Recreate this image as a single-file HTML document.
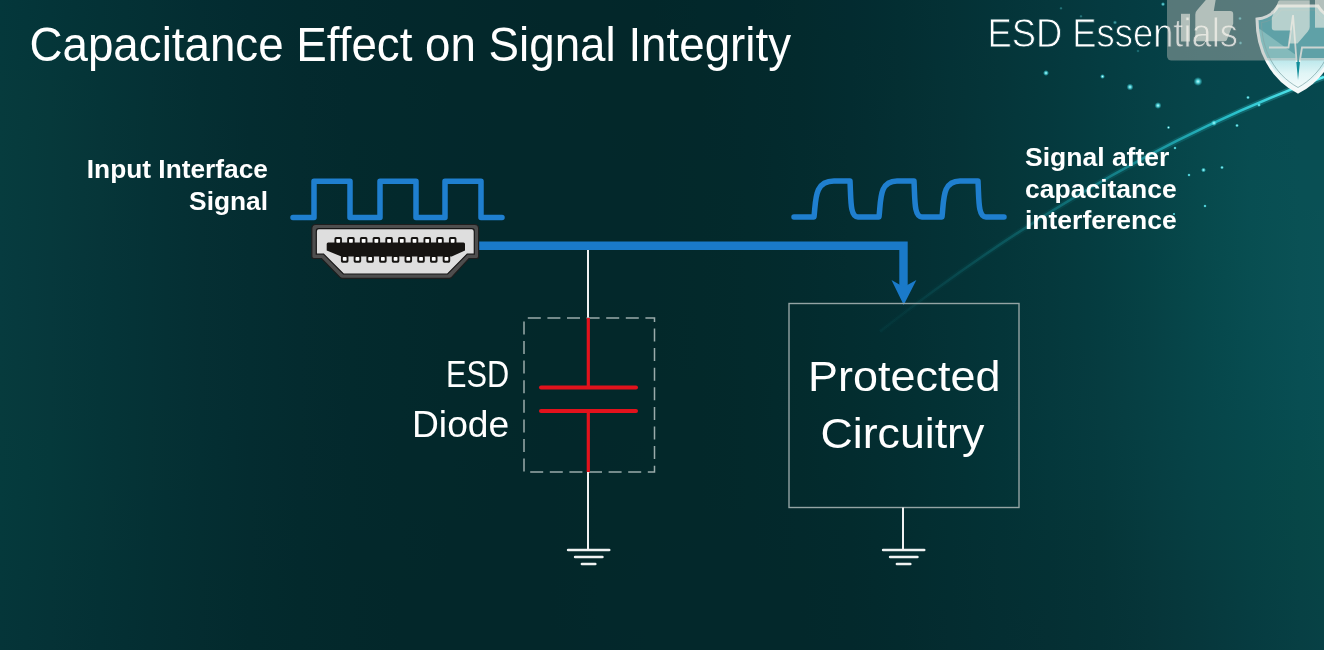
<!DOCTYPE html>
<html>
<head>
<meta charset="utf-8">
<style>
html,body{margin:0;padding:0;width:1324px;height:650px;overflow:hidden;background:#062a2d;}
#bgr div{position:absolute;left:0;width:1324px;height:10px;}
svg{position:absolute;left:0;top:0;filter:blur(0.45px);}
text{font-family:"Liberation Sans",sans-serif;fill:#ffffff;}
</style>
</head>
<body>
<div id="bgr"><div style="top:0px;background:linear-gradient(90deg,#04373b 0px,#043438 50px,#043236 100px,#043034 150px,#032d32 200px,#032b30 250px,#032a2e 300px,#03292d 350px,#03282c 400px,#03282b 450px,#03272b 500px,#03272a 550px,#03272a 600px,#02272a 650px,#02282b 700px,#02282c 750px,#032a2d 800px,#032b30 850px,#032e32 900px,#043135 950px,#043439 1000px,#05373c 1050px,#053a40 1100px,#053d43 1150px,#053f46 1200px,#054148 1250px,#05424a 1300px,#05434b 1324px)"></div><div style="top:10px;background:linear-gradient(90deg,#04373b 0px,#043539 50px,#043236 100px,#043034 150px,#042d32 200px,#032b30 250px,#032a2e 300px,#03292d 350px,#03282c 400px,#03282b 450px,#03272b 500px,#03272a 550px,#03272a 600px,#03272a 650px,#02282b 700px,#02282c 750px,#032a2d 800px,#032b30 850px,#032e32 900px,#043135 950px,#043439 1000px,#05373c 1050px,#053a40 1100px,#053d43 1150px,#054046 1200px,#054249 1250px,#05434a 1300px,#05434b 1324px)"></div><div style="top:20px;background:linear-gradient(90deg,#04373b 0px,#043539 50px,#043336 100px,#043034 150px,#042e32 200px,#032c30 250px,#032a2e 300px,#03292d 350px,#03282c 400px,#03282b 450px,#03282b 500px,#03272a 550px,#03272a 600px,#03272a 650px,#03282b 700px,#03282c 750px,#032a2d 800px,#032b30 850px,#032e32 900px,#043135 950px,#043439 1000px,#05373d 1050px,#053b40 1100px,#053e44 1150px,#054047 1200px,#054249 1250px,#05434b 1300px,#05444b 1324px)"></div><div style="top:30px;background:linear-gradient(90deg,#05383b 0px,#053639 50px,#043337 100px,#043034 150px,#042e32 200px,#042c30 250px,#032a2e 300px,#03292d 350px,#03282c 400px,#03282b 450px,#03282b 500px,#03272a 550px,#03272a 600px,#03272a 650px,#03282b 700px,#03292c 750px,#032a2d 800px,#032c2f 850px,#032e32 900px,#043136 950px,#053439 1000px,#05383d 1050px,#053b40 1100px,#053e44 1150px,#054147 1200px,#05434a 1250px,#05444b 1300px,#06444c 1324px)"></div><div style="top:40px;background:linear-gradient(90deg,#05383c 0px,#053639 50px,#053337 100px,#043034 150px,#042e32 200px,#042c30 250px,#032a2e 300px,#03292d 350px,#03282c 400px,#03282b 450px,#03282b 500px,#03282a 550px,#03272a 600px,#03282a 650px,#03282b 700px,#03292c 750px,#032a2d 800px,#032c30 850px,#042e32 900px,#043136 950px,#053539 1000px,#05383d 1050px,#053b41 1100px,#053f44 1150px,#054148 1200px,#05434a 1250px,#06444c 1300px,#06454c 1324px)"></div><div style="top:50px;background:linear-gradient(90deg,#05393c 0px,#053639 50px,#053437 100px,#043134 150px,#042e32 200px,#042c30 250px,#032a2e 300px,#03292d 350px,#03282c 400px,#03282b 450px,#03282b 500px,#03282a 550px,#03272a 600px,#03282a 650px,#03282a 700px,#03292c 750px,#032a2d 800px,#032c30 850px,#042e32 900px,#043136 950px,#053539 1000px,#05383d 1050px,#053c41 1100px,#053f45 1150px,#054248 1200px,#06444b 1250px,#06454c 1300px,#06454d 1324px)"></div><div style="top:60px;background:linear-gradient(90deg,#05393c 0px,#05373a 50px,#053437 100px,#043135 150px,#042e32 200px,#042c30 250px,#032a2e 300px,#03292d 350px,#03282c 400px,#03282b 450px,#03282b 500px,#03282a 550px,#03282a 600px,#03282a 650px,#03282a 700px,#03292c 750px,#032a2d 800px,#032c30 850px,#042e32 900px,#043236 950px,#053539 1000px,#05383d 1050px,#053c41 1100px,#054045 1150px,#064349 1200px,#06454b 1250px,#06454c 1300px,#06464d 1324px)"></div><div style="top:70px;background:linear-gradient(90deg,#063a3c 0px,#05373a 50px,#053437 100px,#053135 150px,#042e32 200px,#042c30 250px,#042a2e 300px,#03292d 350px,#03282c 400px,#03282b 450px,#03282b 500px,#03282a 550px,#03282a 600px,#03282a 650px,#03282a 700px,#03292c 750px,#032a2d 800px,#032c30 850px,#042e32 900px,#043236 950px,#053539 1000px,#05393d 1050px,#053c41 1100px,#054045 1150px,#064349 1200px,#06454c 1250px,#06464d 1300px,#06464d 1324px)"></div><div style="top:80px;background:linear-gradient(90deg,#063a3d 0px,#06383a 50px,#053437 100px,#053135 150px,#042e32 200px,#042c30 250px,#042a2e 300px,#03292d 350px,#03292c 400px,#03282b 450px,#03282b 500px,#03282a 550px,#03282a 600px,#03282a 650px,#03282a 700px,#03292c 750px,#032a2d 800px,#032c30 850px,#042f32 900px,#053236 950px,#053539 1000px,#05393d 1050px,#053d41 1100px,#064046 1150px,#06444a 1200px,#06464c 1250px,#06474d 1300px,#06474e 1324px)"></div><div style="top:90px;background:linear-gradient(90deg,#063b3d 0px,#06383a 50px,#053538 100px,#053135 150px,#042e32 200px,#042c30 250px,#042a2e 300px,#03292d 350px,#03292c 400px,#03282b 450px,#03282b 500px,#03282b 550px,#03282a 600px,#03282a 650px,#03282a 700px,#03292c 750px,#032a2d 800px,#032c30 850px,#042f32 900px,#053236 950px,#053539 1000px,#05393d 1050px,#053d42 1100px,#064146 1150px,#06444a 1200px,#06474d 1250px,#06474e 1300px,#06484e 1324px)"></div><div style="top:100px;background:linear-gradient(90deg,#063b3d 0px,#06383b 50px,#053538 100px,#053235 150px,#042f32 200px,#042c30 250px,#042a2e 300px,#03292d 350px,#03292c 400px,#03282b 450px,#03282b 500px,#03282b 550px,#03282a 600px,#03282a 650px,#03282a 700px,#03292c 750px,#032a2d 800px,#032c30 850px,#042f33 900px,#053236 950px,#05353a 1000px,#05393d 1050px,#053d42 1100px,#064146 1150px,#06454a 1200px,#06484e 1250px,#06484e 1300px,#07484f 1324px)"></div><div style="top:110px;background:linear-gradient(90deg,#063b3d 0px,#06393b 50px,#053538 100px,#053235 150px,#042f32 200px,#042c30 250px,#042a2e 300px,#03292d 350px,#03292c 400px,#03282c 450px,#03282b 500px,#03282b 550px,#03282a 600px,#03282a 650px,#03282a 700px,#03292c 750px,#032a2d 800px,#032c30 850px,#042f33 900px,#053236 950px,#05363a 1000px,#05393d 1050px,#053d42 1100px,#064246 1150px,#06464b 1200px,#07494e 1250px,#07494f 1300px,#07494f 1324px)"></div><div style="top:120px;background:linear-gradient(90deg,#063b3d 0px,#06393b 50px,#063538 100px,#053235 150px,#052f33 200px,#042c30 250px,#042b2e 300px,#03292d 350px,#03292c 400px,#03282c 450px,#03282b 500px,#03282b 550px,#03282a 600px,#03282a 650px,#03282b 700px,#03292c 750px,#032a2d 800px,#042c30 850px,#042f33 900px,#053236 950px,#05363a 1000px,#05393e 1050px,#053e42 1100px,#064247 1150px,#06464b 1200px,#07494f 1250px,#074a50 1300px,#074a50 1324px)"></div><div style="top:130px;background:linear-gradient(90deg,#063c3e 0px,#06393b 50px,#063538 100px,#053235 150px,#052f33 200px,#042c30 250px,#042b2e 300px,#03292d 350px,#03292c 400px,#03282c 450px,#03282b 500px,#03282b 550px,#03282b 600px,#03282a 650px,#03282b 700px,#03292c 750px,#032a2e 800px,#042c30 850px,#042f33 900px,#053236 950px,#05363a 1000px,#05393e 1050px,#053e42 1100px,#064247 1150px,#06474c 1200px,#074a50 1250px,#074b51 1300px,#074b51 1324px)"></div><div style="top:140px;background:linear-gradient(90deg,#063c3e 0px,#06393b 50px,#063538 100px,#053235 150px,#052f33 200px,#042c30 250px,#042b2f 300px,#032a2d 350px,#03292c 400px,#03282c 450px,#03282b 500px,#03282b 550px,#03282b 600px,#03282a 650px,#03282b 700px,#03292c 750px,#032b2e 800px,#042c30 850px,#042f33 900px,#053236 950px,#05363a 1000px,#05393e 1050px,#053e42 1100px,#064347 1150px,#07474c 1200px,#074b50 1250px,#084c51 1300px,#084c51 1324px)"></div><div style="top:150px;background:linear-gradient(90deg,#063c3e 0px,#06393b 50px,#063639 100px,#053236 150px,#052f33 200px,#042d30 250px,#042b2f 300px,#032a2d 350px,#03292c 400px,#03282c 450px,#03282b 500px,#03282b 550px,#03282b 600px,#03282a 650px,#03282b 700px,#03292c 750px,#032b2e 800px,#042d30 850px,#042f33 900px,#053236 950px,#053639 1000px,#053a3d 1050px,#053e42 1100px,#064347 1150px,#07484c 1200px,#074c51 1250px,#084d52 1300px,#084d52 1324px)"></div><div style="top:160px;background:linear-gradient(90deg,#063c3e 0px,#06393c 50px,#063639 100px,#053236 150px,#052f33 200px,#042d30 250px,#042b2f 300px,#032a2d 350px,#03292c 400px,#03282c 450px,#03282b 500px,#03282b 550px,#03282b 600px,#03282b 650px,#03292b 700px,#03292c 750px,#032b2e 800px,#042d30 850px,#042f33 900px,#053236 950px,#053639 1000px,#05393d 1050px,#053e42 1100px,#064347 1150px,#07484c 1200px,#084d51 1250px,#084e53 1300px,#084e53 1324px)"></div><div style="top:170px;background:linear-gradient(90deg,#063c3e 0px,#06393c 50px,#063639 100px,#053236 150px,#052f33 200px,#042d31 250px,#042b2f 300px,#032a2d 350px,#03292c 400px,#03282c 450px,#03282b 500px,#03282b 550px,#03282b 600px,#03282b 650px,#03292b 700px,#03292c 750px,#032b2e 800px,#042d30 850px,#042f33 900px,#053236 950px,#053639 1000px,#05393d 1050px,#053e42 1100px,#064347 1150px,#07494d 1200px,#084d52 1250px,#084f53 1300px,#094f53 1324px)"></div><div style="top:180px;background:linear-gradient(90deg,#063c3e 0px,#06393c 50px,#063639 100px,#053236 150px,#052f33 200px,#042d31 250px,#042b2f 300px,#032a2d 350px,#03292c 400px,#03282c 450px,#03282b 500px,#03282b 550px,#03282b 600px,#03282b 650px,#03292b 700px,#03292c 750px,#032b2e 800px,#042d30 850px,#042f33 900px,#053236 950px,#053639 1000px,#05393d 1050px,#053e42 1100px,#064347 1150px,#07494d 1200px,#084e52 1250px,#094f54 1300px,#094f54 1324px)"></div><div style="top:190px;background:linear-gradient(90deg,#063c3e 0px,#06393c 50px,#063639 100px,#053236 150px,#052f33 200px,#042d31 250px,#042b2f 300px,#032a2d 350px,#03292c 400px,#03282c 450px,#03282b 500px,#03282b 550px,#03282b 600px,#03282b 650px,#03292b 700px,#032a2c 750px,#032b2e 800px,#042d30 850px,#042f33 900px,#043236 950px,#053639 1000px,#05393d 1050px,#053e42 1100px,#064347 1150px,#07494d 1200px,#084e52 1250px,#095054 1300px,#095054 1324px)"></div><div style="top:200px;background:linear-gradient(90deg,#063c3f 0px,#06393c 50px,#063639 100px,#053236 150px,#052f33 200px,#042d31 250px,#042b2f 300px,#032a2d 350px,#03292c 400px,#03282c 450px,#03282b 500px,#03282b 550px,#03282b 600px,#03282b 650px,#03292b 700px,#032a2c 750px,#032b2e 800px,#042d30 850px,#042f33 900px,#043236 950px,#053539 1000px,#05393d 1050px,#053e41 1100px,#064347 1150px,#07494c 1200px,#084e52 1250px,#095054 1300px,#095055 1324px)"></div><div style="top:210px;background:linear-gradient(90deg,#063c3f 0px,#06393c 50px,#063639 100px,#053236 150px,#052f33 200px,#042d31 250px,#042b2f 300px,#032a2d 350px,#03292c 400px,#03282c 450px,#03282b 500px,#03282b 550px,#03282b 600px,#03282b 650px,#03292b 700px,#032a2c 750px,#032b2e 800px,#042d30 850px,#042f33 900px,#043236 950px,#053539 1000px,#05393d 1050px,#053e41 1100px,#064347 1150px,#07494c 1200px,#084e52 1250px,#095054 1300px,#0a5155 1324px)"></div><div style="top:220px;background:linear-gradient(90deg,#063c3f 0px,#06393c 50px,#063539 100px,#053236 150px,#052f33 200px,#042d31 250px,#042b2f 300px,#032a2d 350px,#03292c 400px,#03282c 450px,#03282b 500px,#03282b 550px,#03282b 600px,#03282b 650px,#03292b 700px,#032a2c 750px,#032b2e 800px,#042d30 850px,#042f33 900px,#043236 950px,#053539 1000px,#05393d 1050px,#053d41 1100px,#064346 1150px,#07494c 1200px,#084e52 1250px,#095154 1300px,#0a5155 1324px)"></div><div style="top:230px;background:linear-gradient(90deg,#063b3f 0px,#06393c 50px,#063539 100px,#053236 150px,#052f33 200px,#042d31 250px,#042b2f 300px,#032a2d 350px,#03292c 400px,#03282c 450px,#03282b 500px,#03282b 550px,#03282b 600px,#03282b 650px,#03292b 700px,#032a2c 750px,#032b2e 800px,#042d30 850px,#042f33 900px,#043236 950px,#053539 1000px,#05393d 1050px,#053d41 1100px,#064346 1150px,#07494c 1200px,#084e51 1250px,#0a5155 1300px,#0a5156 1324px)"></div><div style="top:240px;background:linear-gradient(90deg,#063b3f 0px,#06393c 50px,#063539 100px,#053236 150px,#052f33 200px,#042d31 250px,#042b2f 300px,#032a2d 350px,#03292c 400px,#03282c 450px,#03282b 500px,#03282b 550px,#03282b 600px,#03282b 650px,#03292b 700px,#032a2c 750px,#032b2e 800px,#042d30 850px,#042f33 900px,#043236 950px,#043539 1000px,#05393d 1050px,#053d41 1100px,#064346 1150px,#07494c 1200px,#084e51 1250px,#0a5155 1300px,#0a5256 1324px)"></div><div style="top:250px;background:linear-gradient(90deg,#063b3f 0px,#06383c 50px,#063539 100px,#053236 150px,#052f33 200px,#042d31 250px,#042b2f 300px,#032a2d 350px,#03292c 400px,#03282b 450px,#03282b 500px,#03282b 550px,#03282b 600px,#03282b 650px,#03292b 700px,#032a2c 750px,#032b2e 800px,#042d30 850px,#042f33 900px,#043236 950px,#043539 1000px,#05393c 1050px,#053d41 1100px,#054246 1150px,#07494c 1200px,#084e51 1250px,#0a5155 1300px,#0a5256 1324px)"></div><div style="top:260px;background:linear-gradient(90deg,#063b3f 0px,#06383c 50px,#063539 100px,#053236 150px,#052f33 200px,#042d31 250px,#042b2f 300px,#032a2d 350px,#03292c 400px,#03282b 450px,#03282b 500px,#03282b 550px,#03282b 600px,#03282b 650px,#03292b 700px,#032a2c 750px,#032b2e 800px,#042d30 850px,#042f33 900px,#043236 950px,#043539 1000px,#05383c 1050px,#053d40 1100px,#054246 1150px,#07484b 1200px,#084e51 1250px,#0a5155 1300px,#0a5256 1324px)"></div><div style="top:270px;background:linear-gradient(90deg,#063b3f 0px,#06383c 50px,#053539 100px,#053236 150px,#052f33 200px,#042d31 250px,#042b2f 300px,#032a2d 350px,#03292c 400px,#03282b 450px,#03282b 500px,#03282b 550px,#03282b 600px,#03282b 650px,#03292b 700px,#032a2c 750px,#032b2e 800px,#032d30 850px,#042f33 900px,#043236 950px,#043539 1000px,#05383c 1050px,#053c40 1100px,#054245 1150px,#06484b 1200px,#084e51 1250px,#0a5155 1300px,#0a5257 1324px)"></div><div style="top:280px;background:linear-gradient(90deg,#063b3f 0px,#06383c 50px,#053539 100px,#053236 150px,#052f33 200px,#042d31 250px,#042b2f 300px,#032a2d 350px,#03292c 400px,#03282b 450px,#03282b 500px,#03282b 550px,#03282b 600px,#03282b 650px,#03292b 700px,#032a2c 750px,#032b2e 800px,#032d30 850px,#042f33 900px,#043236 950px,#043539 1000px,#05383c 1050px,#053c40 1100px,#054245 1150px,#06484b 1200px,#084d51 1250px,#0a5156 1300px,#0a5257 1324px)"></div><div style="top:290px;background:linear-gradient(90deg,#063b3f 0px,#06383c 50px,#053539 100px,#053236 150px,#052f33 200px,#042d31 250px,#042b2f 300px,#032a2d 350px,#03292c 400px,#03282b 450px,#03282b 500px,#03282b 550px,#03282b 600px,#03282b 650px,#03292b 700px,#032a2c 750px,#032b2e 800px,#032d30 850px,#042f33 900px,#043236 950px,#043539 1000px,#05383c 1050px,#053c40 1100px,#064245 1150px,#06484b 1200px,#084d51 1250px,#0a5156 1300px,#0a5257 1324px)"></div><div style="top:300px;background:linear-gradient(90deg,#063b3f 0px,#06383c 50px,#053539 100px,#053236 150px,#052f33 200px,#042d31 250px,#042b2f 300px,#032a2d 350px,#03292c 400px,#03282b 450px,#03282b 500px,#03282b 550px,#03282a 600px,#03282b 650px,#03292b 700px,#032a2c 750px,#032b2e 800px,#032d30 850px,#042f33 900px,#043236 950px,#043539 1000px,#05383c 1050px,#053c40 1100px,#064245 1150px,#06484b 1200px,#084d51 1250px,#0a5156 1300px,#0a5257 1324px)"></div><div style="top:310px;background:linear-gradient(90deg,#063b3f 0px,#06383c 50px,#053539 100px,#053236 150px,#052f33 200px,#042d31 250px,#042b2f 300px,#032a2d 350px,#03292c 400px,#03282b 450px,#03282b 500px,#03282a 550px,#03282a 600px,#03282a 650px,#03292b 700px,#032a2c 750px,#032b2e 800px,#032d30 850px,#042f33 900px,#043236 950px,#043539 1000px,#05383c 1050px,#053c40 1100px,#064145 1150px,#06484b 1200px,#084d51 1250px,#0a5156 1300px,#0a5257 1324px)"></div><div style="top:320px;background:linear-gradient(90deg,#063b3f 0px,#06383c 50px,#053539 100px,#053236 150px,#052f33 200px,#042d31 250px,#042b2f 300px,#032a2d 350px,#03292c 400px,#03282b 450px,#03282b 500px,#03282a 550px,#03282a 600px,#03282a 650px,#03292b 700px,#032a2c 750px,#032b2e 800px,#032d30 850px,#032f33 900px,#043236 950px,#043539 1000px,#05383c 1050px,#053c40 1100px,#064145 1150px,#06474b 1200px,#084d51 1250px,#095055 1300px,#0a5257 1324px)"></div><div style="top:330px;background:linear-gradient(90deg,#063b3e 0px,#06383c 50px,#053539 100px,#053236 150px,#052f33 200px,#042d31 250px,#042b2f 300px,#032a2d 350px,#03292c 400px,#03282b 450px,#03282b 500px,#03282a 550px,#03282a 600px,#03282a 650px,#03292b 700px,#032a2c 750px,#032b2e 800px,#032d30 850px,#032f33 900px,#043236 950px,#043539 1000px,#05383c 1050px,#053c40 1100px,#064145 1150px,#06474b 1200px,#074c50 1250px,#095055 1300px,#0a5157 1324px)"></div><div style="top:340px;background:linear-gradient(90deg,#063b3e 0px,#06383c 50px,#053539 100px,#053236 150px,#052f33 200px,#042d31 250px,#042b2f 300px,#032a2d 350px,#03292c 400px,#03282b 450px,#03282b 500px,#03282a 550px,#03282a 600px,#03282a 650px,#03292b 700px,#032a2c 750px,#032b2d 800px,#032d30 850px,#032f32 900px,#043236 950px,#043539 1000px,#05383c 1050px,#053c40 1100px,#064145 1150px,#06474b 1200px,#074c50 1250px,#095055 1300px,#095156 1324px)"></div><div style="top:350px;background:linear-gradient(90deg,#063b3e 0px,#06383b 50px,#053539 100px,#053236 150px,#052f33 200px,#042d31 250px,#042b2f 300px,#032a2d 350px,#03292c 400px,#03282b 450px,#03282a 500px,#03282a 550px,#03282a 600px,#03282a 650px,#03292b 700px,#032a2c 750px,#032b2d 800px,#032d30 850px,#032f32 900px,#043236 950px,#043539 1000px,#05383c 1050px,#063c40 1100px,#064145 1150px,#06474a 1200px,#074c50 1250px,#085055 1300px,#095156 1324px)"></div><div style="top:360px;background:linear-gradient(90deg,#063b3e 0px,#06383b 50px,#053539 100px,#053236 150px,#052f33 200px,#042d31 250px,#042b2f 300px,#032a2d 350px,#03292c 400px,#03282b 450px,#03282a 500px,#03282a 550px,#03282a 600px,#03282a 650px,#03292b 700px,#032a2c 750px,#032b2d 800px,#032d30 850px,#032f32 900px,#043236 950px,#043539 1000px,#05383c 1050px,#063c40 1100px,#064145 1150px,#06464a 1200px,#074c50 1250px,#084f54 1300px,#095156 1324px)"></div><div style="top:370px;background:linear-gradient(90deg,#063b3d 0px,#06383b 50px,#053538 100px,#053236 150px,#052f33 200px,#042d31 250px,#042b2f 300px,#032a2d 350px,#03292c 400px,#03282b 450px,#03282a 500px,#03282a 550px,#03282a 600px,#03282a 650px,#03292a 700px,#032a2c 750px,#032b2d 800px,#032d30 850px,#032f32 900px,#033236 950px,#043539 1000px,#05383d 1050px,#063c40 1100px,#064145 1150px,#06464a 1200px,#074b4f 1250px,#084f54 1300px,#095055 1324px)"></div><div style="top:380px;background:linear-gradient(90deg,#063b3d 0px,#06383b 50px,#053538 100px,#053236 150px,#052f33 200px,#042d31 250px,#042b2f 300px,#032a2d 350px,#03292c 400px,#03282b 450px,#03282a 500px,#03282a 550px,#03282a 600px,#03282a 650px,#03282a 700px,#03292b 750px,#032b2d 800px,#032d2f 850px,#032f32 900px,#033236 950px,#043539 1000px,#05383d 1050px,#063c40 1100px,#064145 1150px,#06464a 1200px,#074b4f 1250px,#084f53 1300px,#085055 1324px)"></div><div style="top:390px;background:linear-gradient(90deg,#063b3d 0px,#06383b 50px,#053538 100px,#053236 150px,#052f33 200px,#042d31 250px,#042b2f 300px,#032a2d 350px,#03292c 400px,#03282b 450px,#03282a 500px,#03282a 550px,#03282a 600px,#03282a 650px,#03282a 700px,#03292b 750px,#032b2d 800px,#032d2f 850px,#032f32 900px,#033235 950px,#043539 1000px,#05393d 1050px,#063c40 1100px,#064145 1150px,#06464a 1200px,#074a4e 1250px,#084e53 1300px,#084f54 1324px)"></div><div style="top:400px;background:linear-gradient(90deg,#063b3d 0px,#06383b 50px,#053538 100px,#053236 150px,#052f33 200px,#042d31 250px,#042b2f 300px,#03292d 350px,#03292c 400px,#03282b 450px,#03282a 500px,#03282a 550px,#03282a 600px,#03282a 650px,#03282a 700px,#03292b 750px,#032b2d 800px,#032d2f 850px,#032f32 900px,#033235 950px,#043539 1000px,#05393d 1050px,#063c40 1100px,#064044 1150px,#064549 1200px,#074a4e 1250px,#084e52 1300px,#084f53 1324px)"></div><div style="top:410px;background:linear-gradient(90deg,#063b3d 0px,#06383b 50px,#053538 100px,#053235 150px,#042f33 200px,#042d31 250px,#042b2f 300px,#03292d 350px,#03292c 400px,#03282b 450px,#03282a 500px,#03282a 550px,#03282a 600px,#03282a 650px,#03282a 700px,#03292b 750px,#032b2d 800px,#032c2f 850px,#032f32 900px,#033235 950px,#043539 1000px,#05393d 1050px,#063c40 1100px,#064044 1150px,#064549 1200px,#06494d 1250px,#074d51 1300px,#084e52 1324px)"></div><div style="top:420px;background:linear-gradient(90deg,#063b3d 0px,#06383b 50px,#053538 100px,#053235 150px,#042f33 200px,#042d31 250px,#042b2e 300px,#03292d 350px,#03282c 400px,#03282b 450px,#03282a 500px,#03272a 550px,#03282a 600px,#03282a 650px,#03282a 700px,#03292b 750px,#032a2d 800px,#032c2f 850px,#032f32 900px,#033235 950px,#043539 1000px,#04383d 1050px,#063c40 1100px,#064044 1150px,#064549 1200px,#06494c 1250px,#074c50 1300px,#084e51 1324px)"></div><div style="top:430px;background:linear-gradient(90deg,#063b3d 0px,#05393b 50px,#053538 100px,#053235 150px,#042f33 200px,#042c30 250px,#042b2e 300px,#03292d 350px,#03282b 400px,#03282b 450px,#03282a 500px,#03272a 550px,#03282a 600px,#03282a 650px,#03282a 700px,#03292b 750px,#032a2d 800px,#032c2f 850px,#032f32 900px,#033135 950px,#033539 1000px,#04383c 1050px,#063b3f 1100px,#064044 1150px,#064448 1200px,#06484c 1250px,#074c4f 1300px,#084d50 1324px)"></div><div style="top:440px;background:linear-gradient(90deg,#063b3d 0px,#05393b 50px,#053538 100px,#053235 150px,#042f33 200px,#042c30 250px,#042a2e 300px,#03292d 350px,#03282b 400px,#03282b 450px,#03282a 500px,#03272a 550px,#03272a 600px,#03282a 650px,#03282a 700px,#03292b 750px,#032a2d 800px,#032c2f 850px,#032e31 900px,#033135 950px,#033538 1000px,#04383c 1050px,#053b3f 1100px,#063f43 1150px,#064448 1200px,#06484b 1250px,#074b4d 1300px,#084d4f 1324px)"></div><div style="top:450px;background:linear-gradient(90deg,#063b3d 0px,#05393b 50px,#053538 100px,#053235 150px,#042f33 200px,#042c30 250px,#042a2e 300px,#03292d 350px,#03282b 400px,#03282b 450px,#03282a 500px,#03272a 550px,#03272a 600px,#03282a 650px,#03282a 700px,#03292b 750px,#032a2c 800px,#032c2f 850px,#032e31 900px,#033135 950px,#033438 1000px,#04383c 1050px,#053b3f 1100px,#063f43 1150px,#064347 1200px,#06474a 1250px,#074b4c 1300px,#084c4e 1324px)"></div><div style="top:460px;background:linear-gradient(90deg,#053b3d 0px,#05393b 50px,#053538 100px,#053235 150px,#042f33 200px,#042c30 250px,#042a2e 300px,#03292c 350px,#03282b 400px,#03282b 450px,#03272a 500px,#03272a 550px,#03272a 600px,#03282a 650px,#03282a 700px,#03292b 750px,#032a2c 800px,#032c2e 850px,#032e31 900px,#033134 950px,#033438 1000px,#04373b 1050px,#053a3e 1100px,#063e42 1150px,#064347 1200px,#064749 1250px,#074a4b 1300px,#084b4c 1324px)"></div><div style="top:470px;background:linear-gradient(90deg,#053b3d 0px,#05393b 50px,#053538 100px,#053235 150px,#042f32 200px,#042c30 250px,#042a2e 300px,#03292c 350px,#03282b 400px,#03282a 450px,#03272a 500px,#03272a 550px,#03282a 600px,#03282a 650px,#03282a 700px,#03292b 750px,#032a2c 800px,#032c2e 850px,#032e31 900px,#033134 950px,#033437 1000px,#04373b 1050px,#053a3d 1100px,#063e42 1150px,#064246 1200px,#064649 1250px,#07494a 1300px,#074b4b 1324px)"></div><div style="top:480px;background:linear-gradient(90deg,#053b3d 0px,#05383b 50px,#053538 100px,#053235 150px,#042f32 200px,#042c30 250px,#042a2e 300px,#03292c 350px,#03282b 400px,#03282a 450px,#03272a 500px,#03272a 550px,#03282a 600px,#03282a 650px,#03282a 700px,#03292b 750px,#032a2c 800px,#032b2e 850px,#032e31 900px,#033034 950px,#033337 1000px,#04363a 1050px,#05393d 1100px,#063d41 1150px,#064246 1200px,#064648 1250px,#074949 1300px,#074a4a 1324px)"></div><div style="top:490px;background:linear-gradient(90deg,#053b3d 0px,#05383a 50px,#053538 100px,#043135 150px,#042e32 200px,#042c30 250px,#042a2e 300px,#03292c 350px,#03282b 400px,#03282a 450px,#03272a 500px,#03272a 550px,#03282a 600px,#03282a 650px,#03282a 700px,#03292b 750px,#032a2c 800px,#032b2e 850px,#032d30 900px,#033033 950px,#033336 1000px,#043639 1050px,#05383c 1100px,#063d41 1150px,#064145 1200px,#064547 1250px,#074848 1300px,#07494a 1324px)"></div><div style="top:500px;background:linear-gradient(90deg,#053b3d 0px,#05383a 50px,#053537 100px,#043135 150px,#042e32 200px,#042c30 250px,#032a2e 300px,#03292c 350px,#03282b 400px,#03282a 450px,#03272a 500px,#03272a 550px,#03282a 600px,#03282a 650px,#03282a 700px,#03292b 750px,#03292c 800px,#032b2e 850px,#032d30 900px,#033033 950px,#033236 1000px,#043538 1050px,#05383b 1100px,#063c40 1150px,#064144 1200px,#064446 1250px,#074748 1300px,#074949 1324px)"></div><div style="top:510px;background:linear-gradient(90deg,#053a3d 0px,#05383a 50px,#053437 100px,#043134 150px,#042e32 200px,#042c2f 250px,#032a2d 300px,#03292c 350px,#03282b 400px,#03282a 450px,#03272a 500px,#03272a 550px,#03282a 600px,#03282a 650px,#03282a 700px,#03282b 750px,#03292c 800px,#032b2d 850px,#032d30 900px,#032f33 950px,#033235 1000px,#043438 1050px,#05373a 1100px,#063b3f 1150px,#064044 1200px,#064446 1250px,#074747 1300px,#074848 1324px)"></div><div style="top:520px;background:linear-gradient(90deg,#053a3c 0px,#05373a 50px,#053437 100px,#043134 150px,#042e32 200px,#042c2f 250px,#032a2d 300px,#03292c 350px,#03282b 400px,#03272a 450px,#03272a 500px,#03272a 550px,#03282a 600px,#03282a 650px,#03282a 700px,#03282b 750px,#03292c 800px,#032b2d 850px,#032d30 900px,#032f32 950px,#033135 1000px,#043437 1050px,#053639 1100px,#063b3e 1150px,#063f43 1200px,#064345 1250px,#074647 1300px,#074848 1324px)"></div><div style="top:530px;background:linear-gradient(90deg,#053a3c 0px,#05373a 50px,#053437 100px,#043134 150px,#042e31 200px,#042b2f 250px,#032a2d 300px,#03282c 350px,#03282b 400px,#03272a 450px,#03272a 500px,#03272a 550px,#03282a 600px,#03282a 650px,#03282a 700px,#03282b 750px,#03292c 800px,#032a2d 850px,#032c2f 900px,#032f32 950px,#033134 1000px,#043336 1050px,#053538 1100px,#063a3e 1150px,#063e42 1200px,#064245 1250px,#074646 1300px,#074747 1324px)"></div><div style="top:540px;background:linear-gradient(90deg,#05393c 0px,#053739 50px,#053437 100px,#043034 150px,#042e31 200px,#042b2f 250px,#032a2d 300px,#03282b 350px,#03282b 400px,#03272a 450px,#03272a 500px,#03272a 550px,#03282a 600px,#03282a 650px,#03282b 700px,#03282b 750px,#03292c 800px,#032a2d 850px,#032c2f 900px,#032e32 950px,#043034 1000px,#043236 1050px,#053538 1100px,#06393d 1150px,#063e41 1200px,#064244 1250px,#074546 1300px,#074647 1324px)"></div><div style="top:550px;background:linear-gradient(90deg,#05393b 0px,#053639 50px,#043336 100px,#043034 150px,#042e31 200px,#042b2f 250px,#03292d 300px,#03282b 350px,#03282b 400px,#03272a 450px,#03272a 500px,#03272a 550px,#03282a 600px,#03282b 650px,#03282b 700px,#03282b 750px,#03292b 800px,#032a2d 850px,#032c2f 900px,#032e31 950px,#043034 1000px,#043235 1050px,#053437 1100px,#06383c 1150px,#063d41 1200px,#064144 1250px,#074446 1300px,#074647 1324px)"></div><div style="top:560px;background:linear-gradient(90deg,#05383b 0px,#053639 50px,#043336 100px,#043033 150px,#042d31 200px,#042b2e 250px,#03292d 300px,#03282b 350px,#03282a 400px,#03272a 450px,#03272a 500px,#03272a 550px,#03282a 600px,#03282b 650px,#03282b 700px,#03282b 750px,#03292b 800px,#032a2d 850px,#032b2f 900px,#032e31 950px,#043033 1000px,#043135 1050px,#053437 1100px,#06383b 1150px,#063c40 1200px,#064043 1250px,#074445 1300px,#074547 1324px)"></div><div style="top:570px;background:linear-gradient(90deg,#05383b 0px,#053538 50px,#043336 100px,#043033 150px,#042d31 200px,#032b2e 250px,#03292c 300px,#03282b 350px,#03282a 400px,#03272a 450px,#03272a 500px,#03272a 550px,#03282a 600px,#03282b 650px,#03282b 700px,#03282b 750px,#03292b 800px,#03292c 850px,#032b2e 900px,#032d31 950px,#042f33 1000px,#043134 1050px,#053337 1100px,#06373b 1150px,#063b3f 1200px,#064043 1250px,#074345 1300px,#074546 1324px)"></div><div style="top:580px;background:linear-gradient(90deg,#05373a 0px,#053538 50px,#043236 100px,#043033 150px,#042d30 200px,#032b2e 250px,#03292c 300px,#03282b 350px,#03272a 400px,#03272a 450px,#03272a 500px,#03272a 550px,#03282b 600px,#03282b 650px,#03282b 700px,#03282b 750px,#03282b 800px,#03292c 850px,#032b2e 900px,#032d31 950px,#042f33 1000px,#043134 1050px,#053336 1100px,#06363a 1150px,#063a3e 1200px,#063f42 1250px,#074245 1300px,#074446 1324px)"></div><div style="top:590px;background:linear-gradient(90deg,#05373a 0px,#053438 50px,#043235 100px,#042f33 150px,#042d30 200px,#032b2e 250px,#03292c 300px,#03282b 350px,#03272a 400px,#03272a 450px,#03272a 500px,#03272a 550px,#03282b 600px,#03282b 650px,#03282b 700px,#03282b 750px,#03282b 800px,#03292c 850px,#032b2e 900px,#032d30 950px,#042f32 1000px,#043034 1050px,#053236 1100px,#06363a 1150px,#063a3e 1200px,#063e42 1250px,#074245 1300px,#074346 1324px)"></div><div style="top:600px;background:linear-gradient(90deg,#05363a 0px,#053437 50px,#043135 100px,#042f33 150px,#042d30 200px,#032b2e 250px,#03292c 300px,#03282b 350px,#03272a 400px,#03272a 450px,#03272a 500px,#03272a 550px,#03282b 600px,#03282b 650px,#03282b 700px,#03282b 750px,#03282b 800px,#03292c 850px,#032b2e 900px,#032c30 950px,#042e32 1000px,#043034 1050px,#053236 1100px,#063539 1150px,#06393d 1200px,#063e42 1250px,#074145 1300px,#074346 1324px)"></div><div style="top:610px;background:linear-gradient(90deg,#053639 0px,#053337 50px,#043135 100px,#042f32 150px,#042c30 200px,#032a2e 250px,#03292c 300px,#03282b 350px,#03272a 400px,#03272a 450px,#03272a 500px,#03272a 550px,#03282b 600px,#03282b 650px,#03282b 700px,#03282b 750px,#03282b 800px,#03292c 850px,#032a2e 900px,#042c30 950px,#042e32 1000px,#053034 1050px,#053236 1100px,#063539 1150px,#06393d 1200px,#063d41 1250px,#074144 1300px,#074245 1324px)"></div><div style="top:620px;background:linear-gradient(90deg,#053539 0px,#053337 50px,#043135 100px,#042e32 150px,#042c30 200px,#032a2e 250px,#03292c 300px,#03282b 350px,#03272a 400px,#03272a 450px,#03272a 500px,#03272a 550px,#03282b 600px,#03282b 650px,#03282b 700px,#03282b 750px,#03282b 800px,#03292c 850px,#032a2e 900px,#042c30 950px,#042e32 1000px,#052f33 1050px,#053235 1100px,#063439 1150px,#06383d 1200px,#063c41 1250px,#074044 1300px,#074245 1324px)"></div><div style="top:630px;background:linear-gradient(90deg,#053539 0px,#053337 50px,#043034 100px,#042e32 150px,#042c30 200px,#032a2d 250px,#03292c 300px,#03282b 350px,#03272a 400px,#03272a 450px,#03272a 500px,#03272a 550px,#03272b 600px,#03282b 650px,#03282b 700px,#03282b 750px,#03282b 800px,#03292c 850px,#032a2e 900px,#042c30 950px,#042e32 1000px,#052f33 1050px,#053135 1100px,#063438 1150px,#06383c 1200px,#063c41 1250px,#073f44 1300px,#074145 1324px)"></div><div style="top:640px;background:linear-gradient(90deg,#053438 0px,#053236 50px,#043034 100px,#042e32 150px,#042c2f 200px,#032a2d 250px,#03292c 300px,#03282b 350px,#03272a 400px,#03272a 450px,#03272a 500px,#03272a 550px,#03272b 600px,#03282b 650px,#03282b 700px,#03282b 750px,#03282b 800px,#03282c 850px,#032a2d 900px,#042c30 950px,#042d32 1000px,#052f33 1050px,#053135 1100px,#063438 1150px,#06373c 1200px,#063b40 1250px,#073f43 1300px,#074045 1324px)"></div></div>
<svg width="1324" height="650" viewBox="0 0 1324 650">
 <defs>
  <linearGradient id="streak" x1="900" y1="310" x2="1324" y2="80" gradientUnits="userSpaceOnUse">
   <stop offset="0" stop-color="#1fb5c0" stop-opacity="0.05"/>
   <stop offset="0.3" stop-color="#1fb5c0" stop-opacity="0.25"/>
   <stop offset="0.55" stop-color="#22b8c4" stop-opacity="0.5"/>
   <stop offset="0.8" stop-color="#2fd0dc" stop-opacity="0.85"/>
   <stop offset="1" stop-color="#5ff0f6" stop-opacity="1"/>
  </linearGradient>
  <radialGradient id="star" cx="0.5" cy="0.5" r="0.5">
   <stop offset="0" stop-color="#c8ffff" stop-opacity="1"/>
   <stop offset="0.35" stop-color="#5fe6ee" stop-opacity="0.9"/>
   <stop offset="1" stop-color="#2fc8d0" stop-opacity="0"/>
  </radialGradient>
  <linearGradient id="shieldfill" x1="0" y1="0" x2="0" y2="1">
   <stop offset="0" stop-color="#3f9aa6"/>
   <stop offset="0.55" stop-color="#5db8c2"/>
   <stop offset="0.8" stop-color="#bfe9ec"/>
   <stop offset="1" stop-color="#e8f8f8"/>
  </linearGradient>
 </defs>

 <!-- streak -->
 <path d="M 880 331.5 Q 1102 158 1324 77" fill="none" stroke="url(#streak)" stroke-width="6" opacity="0.25"/>
 <path d="M 880 331.5 Q 1102 158 1324 77" fill="none" stroke="url(#streak)" stroke-width="2.4"/>

 <!-- stars -->
 <g fill="url(#star)">
  <circle cx="1046" cy="73" r="3"/>
  <circle cx="1102.5" cy="76.5" r="2.5"/>
  <circle cx="1130" cy="87" r="3.5"/>
  <circle cx="1198" cy="81.5" r="4.5"/>
  <circle cx="1158" cy="105.5" r="3.5"/>
  <circle cx="1168.5" cy="127.5" r="1.8"/>
  <circle cx="1214" cy="123" r="3"/>
  <circle cx="1237" cy="125.5" r="2"/>
  <circle cx="1248" cy="97.5" r="2"/>
  <circle cx="1259" cy="105" r="2"/>
  <circle cx="1175" cy="148" r="1.8"/>
  <circle cx="1189" cy="175" r="1.8"/>
  <circle cx="1203.5" cy="170" r="2.5"/>
  <circle cx="1222" cy="167.5" r="2"/>
  <circle cx="1205" cy="206" r="1.8"/>
  <circle cx="1174" cy="214" r="1.5"/>
  <circle cx="1115" cy="22.5" r="2.2" opacity="0.55"/>
  <circle cx="1081" cy="16.3" r="1.8" opacity="0.35"/>
  <circle cx="1061" cy="8.3" r="1.8" opacity="0.35"/>
  <circle cx="1138" cy="51" r="1.8" opacity="0.3"/>
  <circle cx="1240" cy="18.5" r="2" opacity="0.7"/>
  <circle cx="1240.5" cy="43" r="2" opacity="0.7"/>
  <circle cx="1163" cy="4.2" r="2.2" opacity="0.8"/>
 </g>

 <!-- title -->
 <text x="29.5" y="61" font-size="48" textLength="761.5" lengthAdjust="spacingAndGlyphs">Capacitance Effect on Signal Integrity</text>
 <text x="987.5" y="47" font-size="39.8" fill="#eef2f2" stroke="#073c42" stroke-width="0.9" textLength="250.5" lengthAdjust="spacingAndGlyphs">ESD Essentials</text>

 <!-- input label -->
 <text x="268" y="178" font-size="26.3" font-weight="bold" text-anchor="end">Input Interface</text>
 <text x="268" y="209.7" font-size="26.3" font-weight="bold" text-anchor="end">Signal</text>

 <!-- output label -->
 <text x="1025" y="166" font-size="26.5" font-weight="bold">Signal after</text>
 <text x="1025" y="197.5" font-size="26.5" font-weight="bold">capacitance</text>
 <text x="1025" y="229" font-size="26.5" font-weight="bold">interference</text>

 <!-- input square wave -->
 <path d="M293 217.5 H314 V181.2 H350 V217.5 H380 V181.2 H416 V217.5 H445 V181.2 H481 V217.5 H502" fill="none" stroke="#1f7fcf" stroke-width="5.5" stroke-linecap="round" stroke-linejoin="round"/>

 <!-- output wave -->
 <path d="M794 217 H814 C816 200 814 181 834 181 H850 C851 200 850 217 858 217 H879 C881 200 879 181 897 181 H914 C915 200 914 217 922 217 H942 C944 200 942 181 960 181 H978 C979 200 978 217 986 217 H1004" fill="none" stroke="#1f7fcf" stroke-width="5.5" stroke-linecap="round" stroke-linejoin="round"/>

 <!-- main signal line -->
 <path d="M478 245.7 H903.5 V290" fill="none" stroke="#1a7ac9" stroke-width="8.4" stroke-linejoin="miter"/>
 <path d="M891.5 280 L903.7 305 L916.4 280 L903.7 287 Z" fill="#1a7ac9"/>

 <!-- HDMI connector -->
 <g>
  <path d="M315.8 224.5 H474.6 Q478.6 224.5 478.6 228.5 V256.5 Q478.6 258.5 476.6 258.5 H469 L451.6 277.3 Q450.6 278.3 449.2 278.3 H342.4 Q341 278.3 340 277.3 L321.5 258.5 H313.8 Q311.8 258.5 311.8 256.5 V228.5 Q311.8 224.5 315.8 224.5 Z" fill="#4e4e4e" stroke="#1e1e1e" stroke-width="1.2"/>
  <path d="M318.8 228.7 H471.6 Q474.3 228.7 474.3 231.4 V254.2 H467.2 L447.6 274 H343.4 L323.6 254.2 H316.3 V231.4 Q316.3 228.7 318.8 228.7 Z" fill="#dedede" stroke="#161616" stroke-width="1.2"/>
  <path d="M328.2 242.4 H463.5 Q465 242.4 465 243.9 V250.5 L451.7 256.4 H341.4 L326.7 250.5 V243.9 Q326.7 242.4 328.2 242.4 Z" fill="#161412"/>
  <rect x="334.45" y="237.05" width="7.5" height="7.5" rx="1.6" fill="#161412"/><rect x="336.30" y="238.90" width="3.8" height="3.8" rx="0.7" fill="#fff"/>
  <rect x="347.17" y="237.05" width="7.5" height="7.5" rx="1.6" fill="#161412"/><rect x="349.02" y="238.90" width="3.8" height="3.8" rx="0.7" fill="#fff"/>
  <rect x="359.89" y="237.05" width="7.5" height="7.5" rx="1.6" fill="#161412"/><rect x="361.74" y="238.90" width="3.8" height="3.8" rx="0.7" fill="#fff"/>
  <rect x="372.61" y="237.05" width="7.5" height="7.5" rx="1.6" fill="#161412"/><rect x="374.46" y="238.90" width="3.8" height="3.8" rx="0.7" fill="#fff"/>
  <rect x="385.33" y="237.05" width="7.5" height="7.5" rx="1.6" fill="#161412"/><rect x="387.18" y="238.90" width="3.8" height="3.8" rx="0.7" fill="#fff"/>
  <rect x="398.05" y="237.05" width="7.5" height="7.5" rx="1.6" fill="#161412"/><rect x="399.90" y="238.90" width="3.8" height="3.8" rx="0.7" fill="#fff"/>
  <rect x="410.77" y="237.05" width="7.5" height="7.5" rx="1.6" fill="#161412"/><rect x="412.62" y="238.90" width="3.8" height="3.8" rx="0.7" fill="#fff"/>
  <rect x="423.49" y="237.05" width="7.5" height="7.5" rx="1.6" fill="#161412"/><rect x="425.34" y="238.90" width="3.8" height="3.8" rx="0.7" fill="#fff"/>
  <rect x="436.21" y="237.05" width="7.5" height="7.5" rx="1.6" fill="#161412"/><rect x="438.06" y="238.90" width="3.8" height="3.8" rx="0.7" fill="#fff"/>
  <rect x="448.93" y="237.05" width="7.5" height="7.5" rx="1.6" fill="#161412"/><rect x="450.78" y="238.90" width="3.8" height="3.8" rx="0.7" fill="#fff"/>
  <rect x="340.95" y="255.15" width="7.5" height="7.5" rx="1.6" fill="#161412"/><rect x="342.80" y="257.00" width="3.8" height="3.8" rx="0.7" fill="#fff"/>
  <rect x="353.67" y="255.15" width="7.5" height="7.5" rx="1.6" fill="#161412"/><rect x="355.52" y="257.00" width="3.8" height="3.8" rx="0.7" fill="#fff"/>
  <rect x="366.39" y="255.15" width="7.5" height="7.5" rx="1.6" fill="#161412"/><rect x="368.24" y="257.00" width="3.8" height="3.8" rx="0.7" fill="#fff"/>
  <rect x="379.11" y="255.15" width="7.5" height="7.5" rx="1.6" fill="#161412"/><rect x="380.96" y="257.00" width="3.8" height="3.8" rx="0.7" fill="#fff"/>
  <rect x="391.83" y="255.15" width="7.5" height="7.5" rx="1.6" fill="#161412"/><rect x="393.68" y="257.00" width="3.8" height="3.8" rx="0.7" fill="#fff"/>
  <rect x="404.55" y="255.15" width="7.5" height="7.5" rx="1.6" fill="#161412"/><rect x="406.40" y="257.00" width="3.8" height="3.8" rx="0.7" fill="#fff"/>
  <rect x="417.27" y="255.15" width="7.5" height="7.5" rx="1.6" fill="#161412"/><rect x="419.12" y="257.00" width="3.8" height="3.8" rx="0.7" fill="#fff"/>
  <rect x="429.99" y="255.15" width="7.5" height="7.5" rx="1.6" fill="#161412"/><rect x="431.84" y="257.00" width="3.8" height="3.8" rx="0.7" fill="#fff"/>
  <rect x="442.71" y="255.15" width="7.5" height="7.5" rx="1.6" fill="#161412"/><rect x="444.56" y="257.00" width="3.8" height="3.8" rx="0.7" fill="#fff"/>
 </g>

 <!-- white line to capacitor -->
 <line x1="588" y1="250" x2="588" y2="318" stroke="#f0f2f2" stroke-width="2"/>
 <line x1="588" y1="472" x2="588" y2="550" stroke="#f0f2f2" stroke-width="2"/>
 <!-- ground 1 -->
 <line x1="568.1" y1="550" x2="609.2" y2="550" stroke="#f0f2f2" stroke-width="2.6" stroke-linecap="round"/>
 <line x1="575.1" y1="557" x2="602.4" y2="557" stroke="#f0f2f2" stroke-width="2.6" stroke-linecap="round"/>
 <line x1="581.9" y1="564" x2="595.3" y2="564" stroke="#f0f2f2" stroke-width="2.6" stroke-linecap="round"/>

 <!-- dashed box -->
 <rect x="524" y="318" width="130.5" height="154" fill="none" stroke="#9aabab" stroke-width="1.5" stroke-dasharray="13 6.6" stroke-dashoffset="15.8"/>
 <!-- capacitor -->
 <line x1="588.3" y1="318" x2="588.3" y2="387.5" stroke="#e2121c" stroke-width="3.2"/>
 <line x1="541" y1="387.5" x2="636" y2="387.5" stroke="#e2121c" stroke-width="4" stroke-linecap="round"/>
 <line x1="541" y1="411" x2="636" y2="411" stroke="#e2121c" stroke-width="4" stroke-linecap="round"/>
 <line x1="588.3" y1="411" x2="588.3" y2="472" stroke="#e2121c" stroke-width="3.2"/>

 <text x="446" y="386.8" font-size="36.5" textLength="63.2" lengthAdjust="spacingAndGlyphs">ESD</text>
 <text x="412" y="436.8" font-size="36.5" textLength="97.2" lengthAdjust="spacingAndGlyphs">Diode</text>

 <!-- protected box -->
 <rect x="789" y="303.5" width="230" height="204" fill="none" stroke="#94a4a4" stroke-width="1.4"/>
 <text x="808" y="391" font-size="43" textLength="192.4" lengthAdjust="spacingAndGlyphs">Protected</text>
 <text x="820.5" y="448" font-size="43" textLength="163.8" lengthAdjust="spacingAndGlyphs">Circuitry</text>
 <line x1="903" y1="507.5" x2="903" y2="550" stroke="#f0f2f2" stroke-width="2"/>
 <line x1="883.1" y1="550" x2="924.2" y2="550" stroke="#f0f2f2" stroke-width="2.6" stroke-linecap="round"/>
 <line x1="890.1" y1="557" x2="917.4" y2="557" stroke="#f0f2f2" stroke-width="2.6" stroke-linecap="round"/>
 <line x1="896.9" y1="564" x2="910.3" y2="564" stroke="#f0f2f2" stroke-width="2.6" stroke-linecap="round"/>

 <!-- shield logo -->
 <defs>
  <clipPath id="shclip"><path d="M1257 19 C1267 18 1274 13 1278 6 L1318 6 C1322 13 1329 18 1339 19 C1339 50 1325 78 1298 92 C1271 78 1257 50 1257 19 Z"/></clipPath>
  <linearGradient id="shlow" x1="0" y1="58" x2="0" y2="92" gradientUnits="userSpaceOnUse">
   <stop offset="0" stop-color="#b6e6ea"/>
   <stop offset="0.45" stop-color="#e0f5f6"/>
   <stop offset="1" stop-color="#f8fdfd"/>
  </linearGradient>
 </defs>
 <g clip-path="url(#shclip)">
  <rect x="1250" y="0" width="100" height="100" fill="#1590a0"/>
  <path d="M1250 22 L1300 58 L1300 100 L1250 100 Z" fill="#5ec2c8"/>
  <rect x="1250" y="58" width="100" height="40" fill="url(#shlow)"/>
 </g>
 <path d="M1257 19 C1267 18 1274 13 1278 6 L1318 6 C1322 13 1329 18 1339 19 C1339 50 1325 78 1298 92 C1271 78 1257 50 1257 19 Z" fill="none" stroke="#f4f8f8" stroke-width="3"/>
 <path d="M1261.5 22.5 C1270 21.5 1277 17 1281 10 L1315 10 C1319 17 1326 21.5 1334.5 22.5 C1334 50 1322 74 1298 87.5 C1274 74 1262 50 1261.5 22.5 Z" fill="none" stroke="#5d8c90" stroke-width="0.8" opacity="0.7"/>
 <path d="M1295 47.5 L1298 80 L1301.5 47.5 Z" fill="#138d9a"/>
 <path d="M1269 47.5 H1288.5 L1293 15 L1296.6 62" fill="none" stroke="#eef6f4" stroke-width="1.8"/>
 <path d="M1299.6 62 L1302 47.5 H1330" fill="none" stroke="#eef6f4" stroke-width="1.8"/>

 <!-- overlay -->
 <rect x="1167" y="-10" width="170" height="70.5" rx="4.5" fill="#a9b2ad" fill-opacity="0.5"/>
 <!-- thumbs icons -->
 <g fill="#f0f0e6" fill-opacity="0.6">
  <g id="thumb">
   <rect x="1181" y="13.8" width="9" height="27.7"/>
   <path d="M1195.3 41.3 V14.5 Q1195.3 11.8 1197.2 10 L1207.5 -2 H1216 L1213.8 11 H1230.3 Q1233.2 11 1233.2 14 V23.8 L1226.8 40 Q1226.2 41.3 1224.8 41.3 Z"/>
  </g>
  <use href="#thumb" transform="rotate(180 1252.5 20.75)"/>
 </g>
</svg>
</body>
</html>
